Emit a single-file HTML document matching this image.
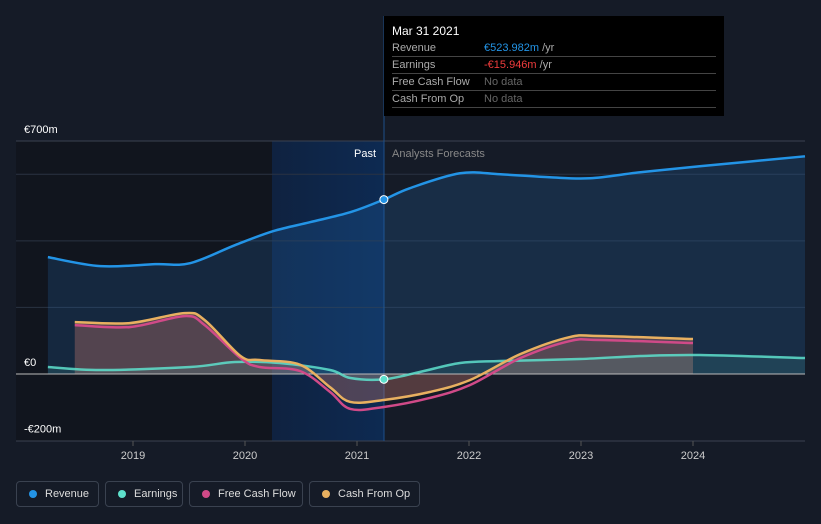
<!DOCTYPE html>
<html><head><meta charset="utf-8"><style>
body{margin:0;background:#151b27;font-family:"Liberation Sans",sans-serif;}
#w{position:relative;width:821px;height:524px;overflow:hidden;}
.tt{position:absolute;left:384px;top:16px;width:340px;height:100px;background:#000;color:#fff;font-size:11px;}
.tt .r{position:absolute;left:8px;width:324px;border-bottom:1px solid #444;height:16px;line-height:16px;color:#aaa}
.tt .v{position:absolute;left:92px}
.leg{position:absolute;top:481px;height:26px;border:1px solid #3a4250;border-radius:4px;color:#ddd;font-size:11px;line-height:24px;box-sizing:border-box;padding-left:28px;white-space:nowrap}
.leg i{position:absolute;left:12px;top:8px;width:8px;height:8px;border-radius:50%}
</style></head><body><div id="w">
<svg id="s" width="821" height="524" style="position:absolute;left:0;top:0"></svg>
<div class="tt">
<div style="position:absolute;left:8px;top:8px;font-size:12px">Mar 31 2021</div>
<div class="r" style="top:24px">Revenue<span class="v" style="color:#2394e6">€523.982m <span style="color:#aaa">/yr</span></span></div>
<div class="r" style="top:41px">Earnings<span class="v" style="color:#f03c3c">-€15.946m <span style="color:#aaa">/yr</span></span></div>
<div class="r" style="top:58px">Free Cash Flow<span class="v" style="color:#666">No data</span></div>
<div class="r" style="top:75px">Cash From Op<span class="v" style="color:#666">No data</span></div>
</div>
<div class="leg" style="left:16px;width:83px"><i style="background:#2394e6"></i>Revenue</div>
<div class="leg" style="left:105px;width:78px"><i style="background:#5ee0cc"></i>Earnings</div>
<div class="leg" style="left:189px;width:114px"><i style="background:#d04a88"></i>Free Cash Flow</div>
<div class="leg" style="left:309px;width:111px"><i style="background:#e8b060"></i>Cash From Op</div>
</div>
<script>
const yTicks=[700,0,-200];
const yTickLabels=["€700m","€0","-€200m"];
const xTicks=[2019,2020,2021,2022,2023,2024];
const revX=[2018.24,2018.71,2019.2,2019.51,2019.91,2020.25,2020.58,2020.94,2021.24,2021.47,2021.92,2022.28,2022.72,2023.08,2023.53,2024.06,2025.0];
const revY=[351,324,330,333,387,429,456,486,524,558,603,600,591,588,606,624,654];
const earnX=[2018.24,2018.71,2019.51,2019.91,2020.31,2020.76,2020.94,2021.24,2021.56,2021.92,2022.28,2022.99,2023.53,2024.06,2025.0];
const earnY=[21,12,21,36,33,12,-12,-16,6,33,39,45,54,57,48];
const fcfX=[2018.48,2018.97,2019.46,2019.64,2019.96,2020.13,2020.49,2020.76,2020.94,2021.24,2021.65,2022.01,2022.46,2022.9,2023.17,2024.0];
const fcfY=[147,141,174,147,48,21,9,-54,-105,-99,-72,-33,48,99,102,93];
const cfoX=fcfX;
const cfoY=[156,153,183,162,54,42,28,-40,-84,-78,-54,-18,60,111,114,105];
const X=v=>133+(v-2019)*112, Y=v=>374-v*233/700;
const s=document.getElementById('s');const NS='http://www.w3.org/2000/svg';
function el(t,a,n){const e=document.createElementNS(NS,t);for(const k in a)e.setAttribute(k,a[k]);
s.appendChild(e);return e;}
function path(xs,ys){const p=xs.map((x,i)=>[X(x),Y(ys[i])]);let d='M'+p[0];for(let i=0;i<p.length-1;i++){const a=p[i-1]||p[i],b=p[i],c=p[i+1],e=p[i+2]||c;
d+=' C'+(b[0]+(c[0]-a[0])/6)+','+(b[1]+(c[1]-a[1])/6)+' '+(c[0]-(e[0]-b[0])/6)+','+(c[1]-(e[1]-b[1])/6)+' '+c;}return d;}
const defs=document.createElementNS(NS,'defs');defs.innerHTML='<linearGradient id="hg" x1="0" x2="1"><stop offset="0" stop-color="#0f2240"/><stop offset="1" stop-color="#0d2a52"/></linearGradient>';s.appendChild(defs);
el('rect',{x:16,y:141,width:256,height:300,fill:'#11151e'},'past-shade');
el('rect',{x:272,y:141,width:112,height:300,fill:'url(#hg)'},'highlight-band');
[600,400,200].forEach(v=>el('line',{x1:16,x2:805,y1:Y(v),y2:Y(v),stroke:'#2a3342'},'gridline'));
el('line',{x1:16,x2:805,y1:141,y2:141,stroke:'#3a4250'},'gridline-top');
el('line',{x1:16,x2:805,y1:441,y2:441,stroke:'#3a4250'},'x-axis');
el('line',{x1:384,x2:384,y1:16,y2:441,stroke:'#1d4f8a'},'cursor-line');
yTicks.forEach((v,i)=>{const t=el('text',{x:24,y:Y(v)-8,fill:'#fff','font-size':11},'y-tick-label');t.textContent=yTickLabels[i];});
xTicks.forEach(v=>{el('line',{x1:X(v),x2:X(v),y1:441,y2:446,stroke:'#555'},'x-tick');const t=el('text',{x:X(v),y:459,fill:'#ccc','font-size':11,'text-anchor':'middle'},'x-tick-label');t.textContent=v;});
let t=el('text',{x:376,y:157,fill:'#fff','font-size':11,'text-anchor':'end'},'past-label');t.textContent='Past';
t=el('text',{x:392,y:157,fill:'#888','font-size':11},'forecast-label');t.textContent='Analysts Forecasts';
function area(xs,ys,fill,n){el('path',{d:path(xs,ys)+' L'+X(xs[xs.length-1])+','+Y(0)+' L'+X(xs[0])+','+Y(0)+'Z',fill:fill},n);}
area(revX,revY,'rgba(35,110,180,0.22)','revenue-area');
area(cfoX,cfoY,'rgba(200,120,110,0.35)','cashflow-area');
area(earnX,earnY,'rgba(94,224,204,0.12)','earnings-area');
el('line',{x1:16,x2:805,y1:374,y2:374,stroke:'#bbb'},'zero-line');
el('path',{d:path(revX,revY),fill:'none',stroke:'#2394e6','stroke-width':2.5},'revenue-line');
el('path',{d:path(earnX,earnY),fill:'none',stroke:'#5ee0cc','stroke-width':2.5,opacity:.85},'earnings-line');
el('path',{d:path(fcfX,fcfY),fill:'none',stroke:'#d04a88','stroke-width':2.5},'fcf-line');
el('path',{d:path(cfoX,cfoY),fill:'none',stroke:'#e8b060','stroke-width':2.5},'cfo-line');
el('circle',{cx:X(2021.24),cy:Y(524),r:4,fill:'#2394e6',stroke:'#fff','stroke-width':1},'revenue-marker');
el('circle',{cx:X(2021.24),cy:Y(-16),r:4,fill:'#5ee0cc',stroke:'#fff','stroke-width':1},'earnings-marker');
</script></body></html>
